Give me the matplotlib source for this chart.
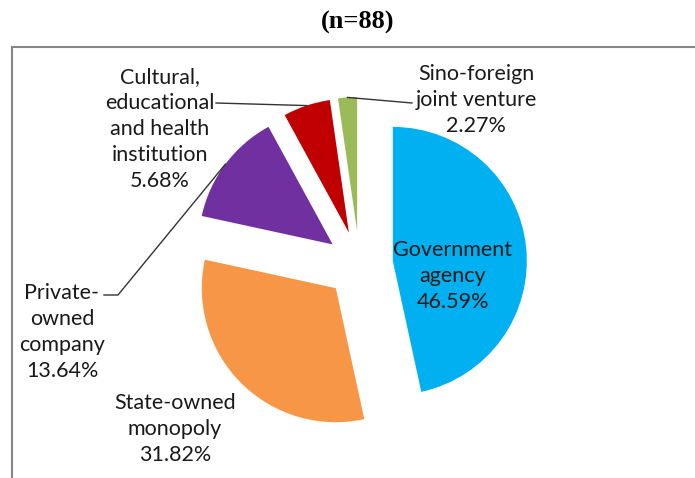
import numpy as np
import matplotlib
matplotlib.use("Agg")
import matplotlib.pyplot as plt

# data (n=88)
labels = ["Government\nagency", "State-owned\nmonopoly", "Private-\nowned\ncompany",
          "Cultural,\neducational\nand health\ninstitution", "Sino-foreign\njoint venture"]
counts = [41, 28, 12, 5, 2]
colors = ["#00B0F0", "#F79646", "#7030A0", "#C00000", "#9BBB59"]
n_total = 88

W, H = 695, 478


def py(y):
    # pixel row (from top) -> data y
    return H - y


fig = plt.figure(figsize=(W / 100, H / 100), dpi=100)
ax = fig.add_axes([0, 0, 1, 1])

R = 134
wedges, _ = ax.pie(counts, colors=colors, startangle=90, counterclock=False,
                   explode=[0.25 * R] * len(counts), radius=R,
                   center=(359.5, py(264.5)), frame=True)
ax.set_xlim(0, W)
ax.set_ylim(0, H)
ax.set_aspect("equal")
ax.axis("off")

# plot area border
ax.plot([12, 12, W + 5], [-5, py(47), py(47)], color="#868686", lw=1.5,
        solid_joinstyle="miter", clip_on=False)

fig.text(358 / W, 1 - 22 / H, "(n=88)", ha="center", va="center",
         fontsize=19, fontweight="bold", family="Liberation Serif")

txt = dict(ha="center", va="center", fontsize=15.5, family="Lato",
           color="#1a1a1a", linespacing=1.36)
label_pos = [(453, 276), (175, 429), (62, 332), (160, 129), (476, 100)]
for lab, c, (x, y) in zip(labels, counts, label_pos):
    ax.text(x, py(y), f"{lab}\n{c / n_total * 100:.2f}%", **txt)


def arc_point(w):
    a = np.deg2rad((w.theta1 + w.theta2) / 2)
    cx, cy = w.center
    return cx + w.r * np.cos(a), cy + w.r * np.sin(a)


lc = dict(color="#333333", lw=1.0)
# Cultural
ex, ey = arc_point(wedges[3])
ax.plot([216, ex], [py(103), ey], **lc)
# Sino-foreign
ex, ey = arc_point(wedges[4])
ax.plot([412, ex], [py(103), ey], **lc)
# Private-owned
ex, ey = arc_point(wedges[2])
ax.plot([104, 118, ex], [py(295), py(295), ey], **lc)

fig.savefig("out.png", dpi=100)
